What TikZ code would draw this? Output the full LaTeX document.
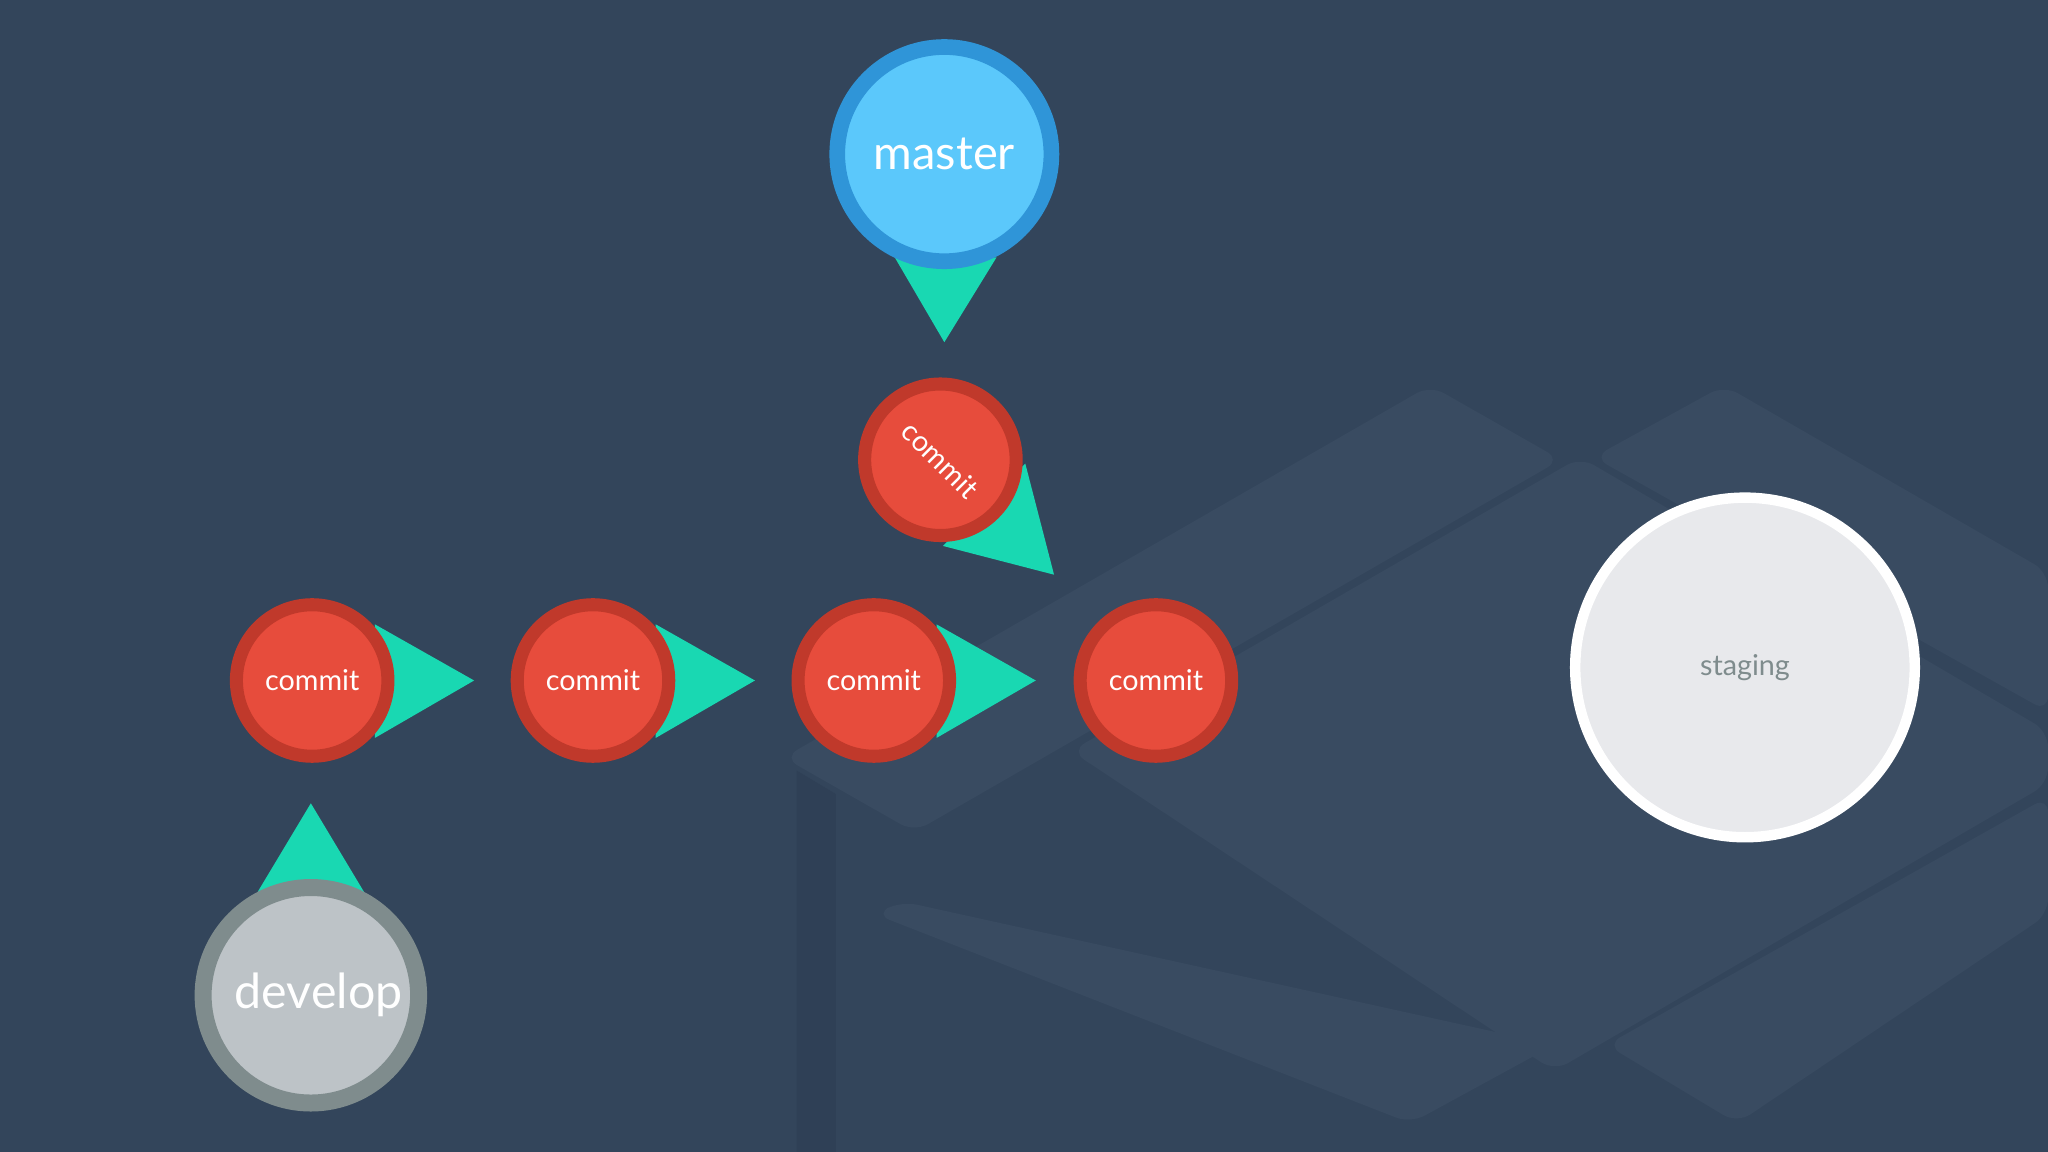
\documentclass[tikz,border=0pt]{standalone}
\usepackage{fontspec}
\setmainfont{Lato}
\definecolor{bg}{HTML}{33455B}
\definecolor{bgl}{HTML}{394B61}
\definecolor{bgd}{HTML}{2F4056}
\definecolor{arrowc}{HTML}{19D8B2}
\definecolor{cfill}{HTML}{E74C3C}
\definecolor{cdraw}{HTML}{C0392B}
\definecolor{mfill}{HTML}{5BC8FB}
\definecolor{mdraw}{HTML}{2F95D8}
\definecolor{dfill}{HTML}{BDC3C7}
\definecolor{ddraw}{HTML}{7F8C8D}
\definecolor{sfill}{HTML}{E8E9EC}
\definecolor{stext}{HTML}{7F8C8D}
\begin{document}
\begin{tikzpicture}[x=1pt,y=-1pt,
  commitnode/.style={circle,fill=cfill,draw=cdraw,line width=10pt,minimum size=116pt,inner sep=0pt,text=white,font=\fontsize{22}{22}\selectfont},
  tri/.style={fill=arrowc}]
\fill[bg] (0,0) rectangle (1568,882);
\useasboundingbox (0,0) rectangle (1568,882);
% faint isometric background
\fill[bgl,rounded corners=12pt] (600,580) -- (1095,295) -- (1195,352) -- (700,637) -- cycle;
\fill[bgl,rounded corners=12pt] (1220,350) -- (1320,295) -- (1568,438) -- (1568,545) -- cycle;
\fill[bgl,rounded corners=12pt] (820,575) -- (1210,350) -- (1568,560) -- (1568,600) -- (1190,820) -- cycle;
\fill[bgd] (610,590) -- (640,608) -- (640,882) -- (610,882) -- cycle;
\fill[bgl,rounded corners=12pt] (670,700) -- (690,690) -- (1190,800) -- (1080,860) -- cycle;
\fill[bgl,rounded corners=12pt] (1230,800) -- (1568,610) -- (1568,700) -- (1330,860) -- cycle;
% triangles
\fill[tri] (685,197) -- (763,197) -- (723,262) -- cycle;
\foreach \x in {239,454,669}{
  \fill[tri] (\x+48,478) -- (\x+48,565) -- (\x+124,521) -- cycle;}
\fill[tri] (785,355) -- (807,440) -- (722,418) -- cycle;
\fill[tri] (238,615) -- (196,685) -- (280,685) -- cycle;
% nodes
\node[circle,fill=mfill,draw=mdraw,line width=12pt,minimum size=164pt,inner sep=0pt,text=white,font=\fontsize{36}{36}\selectfont] (master) at (723,118) {\raisebox{-2pt}{master}};
\node[commitnode,rotate=-45] (c0) at (720,352) {commit};
\node[commitnode] (c1) at (239,521) {commit};
\node[commitnode] (c2) at (454,521) {commit};
\node[commitnode] (c3) at (669,521) {commit};
\node[commitnode] (c4) at (885,521) {commit};
\node[circle,fill=dfill,draw=ddraw,line width=13pt,minimum size=165pt,inner sep=0pt,text=white,font=\fontsize{37}{37}\selectfont] (develop) at (238,762) {\hspace*{12pt}develop};
\node[circle,fill=sfill,draw=white,line width=8pt,minimum size=260pt,inner sep=0pt,text=stext,font=\fontsize{22}{22}\selectfont] (staging) at (1336,511) {\raisebox{-5pt}{staging}};
\end{tikzpicture}
\end{document}
